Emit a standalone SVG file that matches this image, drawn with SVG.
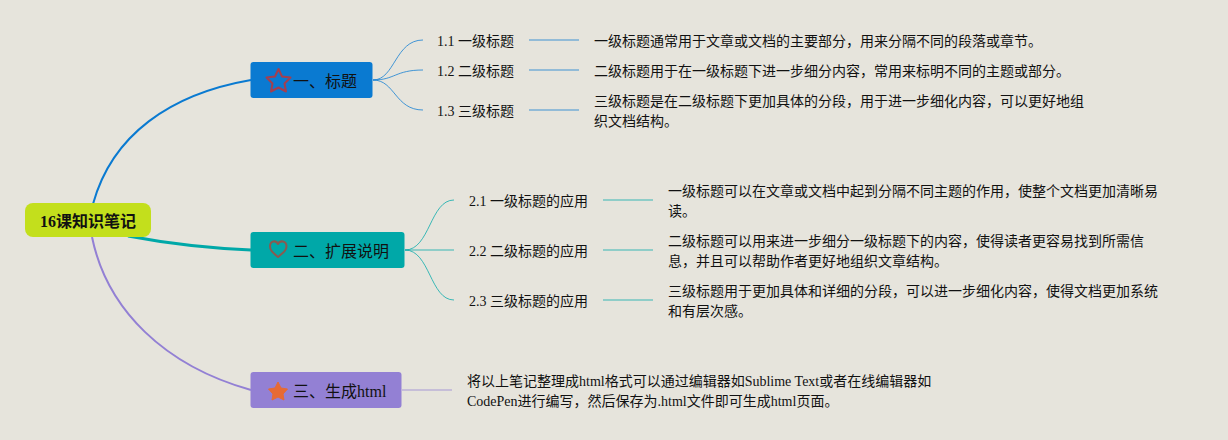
<svg xmlns="http://www.w3.org/2000/svg" width="1228" height="440" viewBox="0 0 1228 440">
<style>
text{font-family:"Liberation Serif","Noto Sans CJK SC",serif;fill:#111}
.l{font-size:14px}
.m{font-size:16px}
.r{font-size:16px;font-weight:bold}
#connectors path{fill:none}
.blue{stroke:#0a7ad1}
.teal{stroke:#00a8a8}
.pur{stroke:#9380d4}
.thin{stroke-width:1;opacity:.75}
.str{stroke-width:1.5;opacity:.5}
.icon{fill:none;stroke-width:2;stroke-linejoin:round}
</style>
<rect width="1228" height="440" fill="#e6e4dc"/>
<g id="connectors">
<path class="blue" stroke-width="2" d="M93 204C112 135 170 94 251 80"/>
<path class="teal" stroke-width="3" d="M128 236C165 243 205 248 251 250"/>
<path class="pur" stroke-width="2" d="M92 237C107 310 165 366 251 390"/>
<path class="blue thin" d="M373 80C395 80 395 40 423 40"/>
<path class="blue thin" d="M373 80C395 80 395 70 423 70"/>
<path class="blue thin" d="M373 80C395 80 395 110 423 110"/>
<path class="teal thin" d="M405 250C430 250 430 200 454 200"/>
<path class="teal str" d="M405 250H454"/>
<path class="teal thin" d="M405 250C430 250 430 300 454 300"/>
<path class="blue str" d="M529 40H579"/>
<path class="blue str" d="M529 70H579"/>
<path class="blue str" d="M529 110H579"/>
<path class="teal str" d="M603 200H653"/>
<path class="teal str" d="M603 250H653"/>
<path class="teal str" d="M603 300H653"/>
<path class="pur str" d="M402 390H452"/>
</g>
<g id="root"><rect x="25" y="203" width="126" height="34" rx="8" fill="#c3df1c"/><text class="r" x="40" y="227">16课知识笔记</text></g>
<g id="n1"><rect x="250.500" y="62" width="122" height="36" rx="3" fill="#0a7ad1"/><path class="icon" d="M278.500 69L282 76.500L290.500 77.500L284.500 83.500L286 91.500L278.500 87.500L271 91.500L272.500 83.500L266.500 77.500L275 76.500Z" stroke="#a33f50"/><text class="m" x="293" y="87">一、标题</text></g>
<g id="n2"><rect x="250.500" y="232" width="154" height="36" rx="3" fill="#00a8a8"/><path class="icon" d="M278 257C272 252 270 250 270 246.500C270 240.500 276 240 278 244C280 240 286.500 240.500 286.500 246.500C286.500 250 284 252 278 257Z" stroke="#8a5a50"/><text class="m" x="293" y="257">二、扩展说明</text></g>
<g id="n3"><rect x="250.500" y="372" width="151" height="36" rx="3" fill="#9380d4"/><path d="M278 382L281 388L287.500 389L283 394L284 400L278 397L272 400L273 394L268.500 389L275 388Z" fill="#e66a35" stroke="#e66a35" stroke-linejoin="round"/><text class="m" x="293" y="397">三、生成html</text></g>
<g id="n11"><text class="l" x="437" y="46">1.1 一级标题</text></g>
<g id="n12"><text class="l" x="437" y="76">1.2 二级标题</text></g>
<g id="n13"><text class="l" x="437" y="116">1.3 三级标题</text></g>
<g id="n21"><text class="l" x="469" y="206">2.1 一级标题的应用</text></g>
<g id="n22"><text class="l" x="469" y="256">2.2 二级标题的应用</text></g>
<g id="n23"><text class="l" x="469" y="306">2.3 三级标题的应用</text></g>
<g id="d11"><text class="l" x="594" y="46">一级标题通常用于文章或文档的主要部分，用来分隔不同的段落或章节。</text></g>
<g id="d12"><text class="l" x="594" y="76">二级标题用于在一级标题下进一步细分内容，常用来标明不同的主题或部分。</text></g>
<g id="d13"><text class="l" x="594" y="106">三级标题是在二级标题下更加具体的分段，用于进一步细化内容，可以更好地组</text><text class="l" x="594" y="126">织文档结构。</text></g>
<g id="d21"><text class="l" x="668" y="196">一级标题可以在文章或文档中起到分隔不同主题的作用，使整个文档更加清晰易</text><text class="l" x="668" y="216">读。</text></g>
<g id="d22"><text class="l" x="668" y="246">二级标题可以用来进一步细分一级标题下的内容，使得读者更容易找到所需信</text><text class="l" x="668" y="266">息，并且可以帮助作者更好地组织文章结构。</text></g>
<g id="d23"><text class="l" x="668" y="296">三级标题用于更加具体和详细的分段，可以进一步细化内容，使得文档更加系统</text><text class="l" x="668" y="316">和有层次感。</text></g>
<g id="d3"><text class="l" x="467" y="386">将以上笔记整理成html格式可以通过编辑器如Sublime Text或者在线编辑器如</text><text class="l" x="467" y="406">CodePen进行编写，然后保存为.html文件即可生成html页面。</text></g>
</svg>
